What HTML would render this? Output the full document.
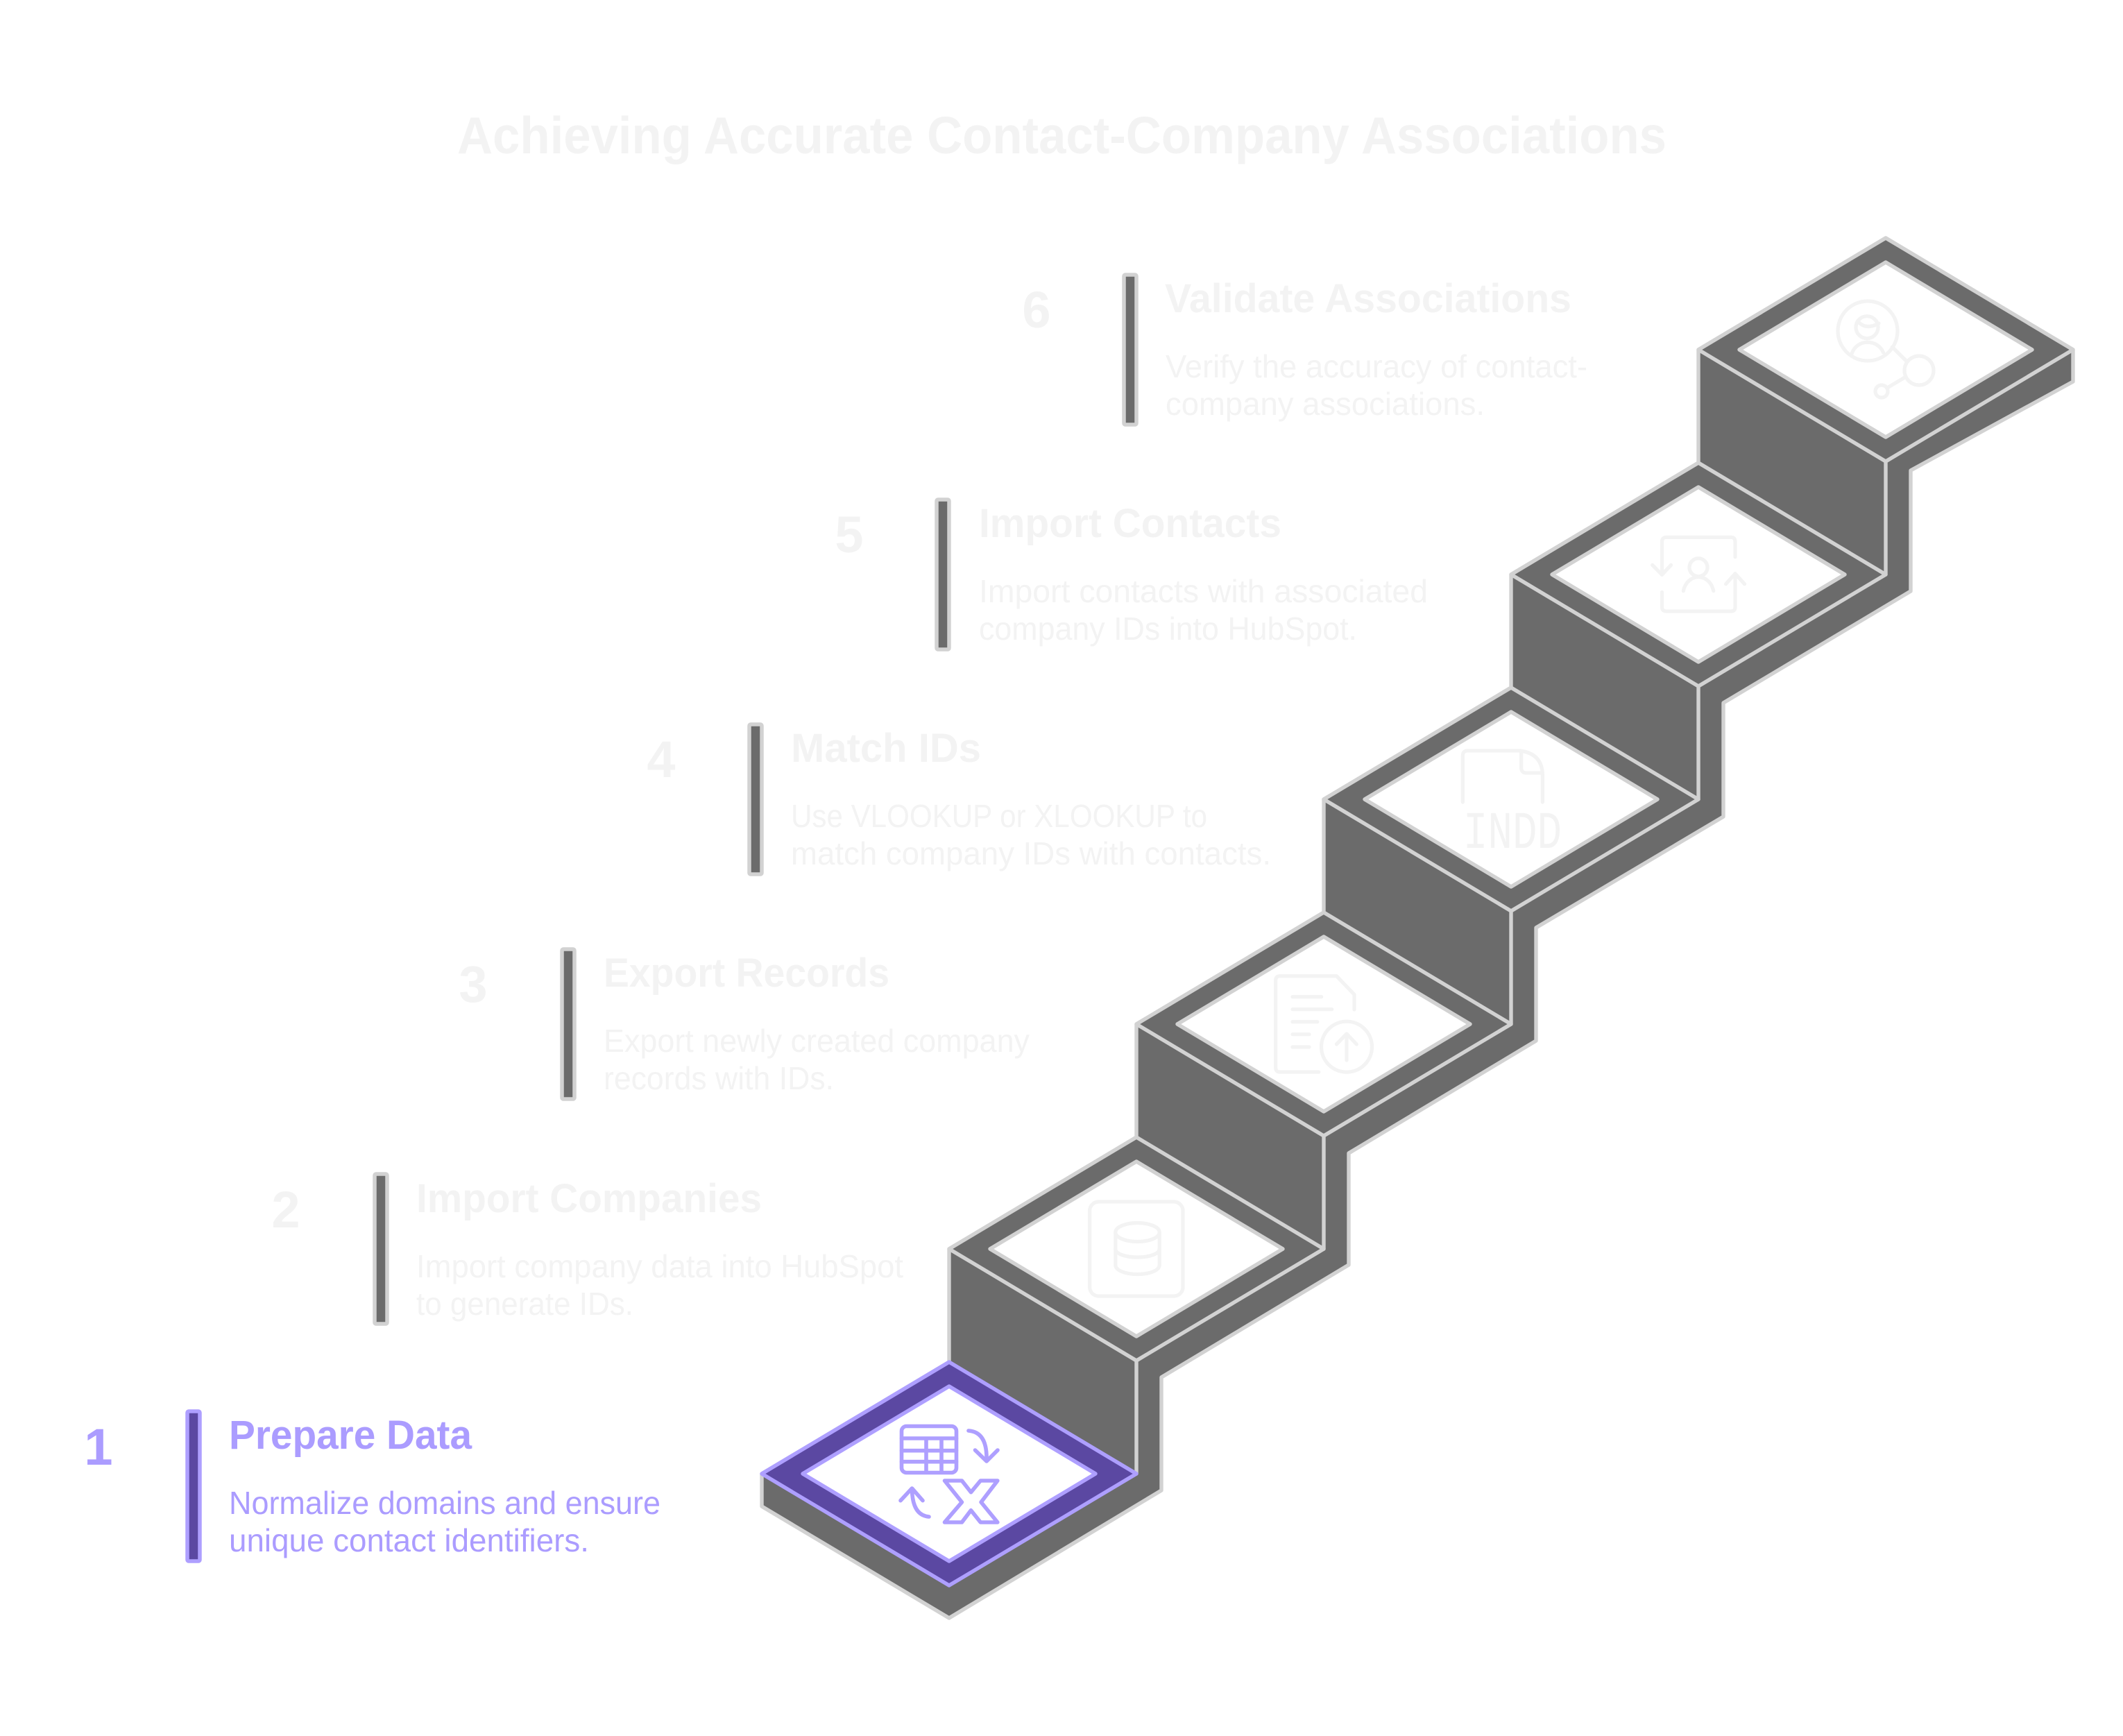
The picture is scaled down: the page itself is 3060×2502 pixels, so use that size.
<!DOCTYPE html>
<html lang="en">
<head>
<meta charset="utf-8">
<title>Achieving Accurate Contact-Company Associations</title>
<style>
html,body{margin:0;padding:0;background:#fff;width:3060px;height:2502px;overflow:hidden}
svg{display:block}
text{font-family:"Liberation Sans",sans-serif}
.g{fill:#f3f3f3}
.p{fill:#ab9cff}
.t{font-weight:700;font-size:58px}
.b{font-size:46px}
.n{font-weight:700;font-size:74px;text-anchor:middle}
.ln{stroke:#d2d2d2;stroke-width:5.4;stroke-linejoin:round;stroke-linecap:round}
.bar{fill:#6b6b6b;stroke:#d2d2d2;stroke-width:5.5}
.ig{fill:none;stroke:#f3f3f3;stroke-width:5.2;stroke-linejoin:round;stroke-linecap:round}
.ip{fill:none;stroke:#ae9fff;stroke-width:5.6;stroke-linejoin:round;stroke-linecap:round}
</style>
</head>
<body>
<svg xmlns="http://www.w3.org/2000/svg" width="3060" height="2502" viewBox="0 0 3060 2502">
<rect width="3060" height="2502" fill="#fff"/>

<!-- stairs silhouette -->
<polygon class="ln" fill="#6b6b6b" points="2718,343 2988,504 2988,550 2754,678 2754,852 2484,1013 2484,1177 2214,1337 2214,1500 1944,1662 1944,1823 1674,1985 1674,2148 1368,2332 1098,2171 1098,2124 1368,1963 1368,1800 1638,1639 1638,1476 1908,1315 1908,1152 2178,991 2178,828 2448,667 2448,504"/>

<!-- step 6 -->
<polygon class="ln" fill="#6b6b6b" points="2718,343 2988,504 2718,665 2448,504"/>
<polygon class="ln" fill="#fff" points="2718,378 2929,504 2718,630 2507,504"/>
<line class="ln" x1="2718" y1="665" x2="2718" y2="828"/>
<!-- step 5 -->
<polygon class="ln" fill="#6b6b6b" points="2448,667 2718,828 2448,989 2178,828"/>
<polygon class="ln" fill="#fff" points="2448,702 2659,828 2448,954 2237,828"/>
<line class="ln" x1="2448" y1="989" x2="2448" y2="1152"/>
<!-- step 4 -->
<polygon class="ln" fill="#6b6b6b" points="2178,991 2448,1152 2178,1313 1908,1152"/>
<polygon class="ln" fill="#fff" points="2178,1026 2389,1152 2178,1278 1967,1152"/>
<line class="ln" x1="2178" y1="1313" x2="2178" y2="1476"/>
<!-- step 3 -->
<polygon class="ln" fill="#6b6b6b" points="1908,1315 2178,1476 1908,1637 1638,1476"/>
<polygon class="ln" fill="#fff" points="1908,1350 2119,1476 1908,1602 1697,1476"/>
<line class="ln" x1="1908" y1="1637" x2="1908" y2="1800"/>
<!-- step 2 -->
<polygon class="ln" fill="#6b6b6b" points="1638,1639 1908,1800 1638,1961 1368,1800"/>
<polygon class="ln" fill="#fff" points="1638,1674 1849,1800 1638,1926 1427,1800"/>
<line class="ln" x1="1638" y1="1961" x2="1638" y2="2124"/>
<!-- step 1 -->
<polygon fill="#5b48a2" stroke="#ae9fff" stroke-width="5.4" stroke-linejoin="round" points="1368,1963 1638,2124 1368,2285 1098,2124"/>
<polygon fill="#fff" stroke="#ae9fff" stroke-width="5.4" stroke-linejoin="round" points="1368,1998 1579,2124 1368,2250 1157,2124"/>

<!-- icon 1 -->
<g class="ip">
<rect x="1299.5" y="2055.5" width="79" height="67" rx="7"/>
<path d="M1299.5 2073H1378.5M1299.5 2090.7H1378.5M1299.5 2106.7H1378.5M1335 2073V2122M1357 2073V2122"/>
<path d="M1396 2062Q1423 2064 1422 2104"/>
<path d="M1405.5 2090L1422 2106L1438 2090"/>
<path d="M1339 2186Q1315 2184 1314.5 2146"/>
<path d="M1298 2162.7L1314.5 2145L1330 2162.7"/>
<polygon points="1361.5,2134 1386.4,2134 1399.5,2150.7 1413.3,2134 1437.8,2134 1414.1,2165 1437.8,2194 1413.3,2194 1399.5,2176.7 1386.4,2194 1361.5,2194 1386.4,2165"/>
</g>

<!-- icon 2 -->
<g class="ig">
<rect x="1570.6" y="1732" width="134.4" height="136" rx="13"/>
<ellipse cx="1639.5" cy="1776" rx="31.7" ry="13.5"/>
<path d="M1607.8 1776V1823C1607.8 1831 1622 1836.5 1639.5 1836.5C1657 1836.5 1671.2 1831 1671.2 1823V1776"/>
<path d="M1607.8 1800C1607.8 1807 1622 1812 1639.5 1812C1657 1812 1671.2 1807 1671.2 1800"/>
</g>

<!-- icon 3 -->
<g class="ig">
<path d="M1900.7 1545H1845Q1838.7 1545 1838.7 1539V1413Q1838.7 1406.7 1845 1406.7H1926.4L1952 1433.3V1455"/>
<path d="M1863 1436.7H1904.7M1863 1454.7H1919.7M1863 1472.7H1898.8M1863 1490.7H1887M1863 1509H1887"/>
<ellipse cx="1941" cy="1508.7" rx="36.5" ry="36.5"/>
<path d="M1941 1528V1490M1926.4 1505L1941 1490L1955.3 1505"/>
</g>

<!-- icon 4 -->
<g class="ig">
<path d="M2108.4 1156V1089Q2108.4 1082 2115 1082H2190.6Q2223.4 1086 2223.4 1118V1156"/>
<path d="M2192.6 1083V1106Q2192.6 1114 2200 1114H2222"/>
</g>
<text x="2109" y="1222" font-size="76" textLength="142" lengthAdjust="spacingAndGlyphs" class="g" style="font-family:'Liberation Mono',monospace">INDD</text>

<!-- icon 5 -->
<g class="ig">
<path d="M2501 802.7V781Q2501 774.3 2495 774.3H2402Q2395.5 774.3 2395.5 781V828.3"/>
<path d="M2381.7 814.3L2395.5 828.3L2408.5 814.3"/>
<path d="M2395.5 853.3V875Q2395.5 881 2402 881H2495Q2501 881 2501 875V826.7"/>
<path d="M2487.6 841.7L2501 826.7L2514.5 841.7"/>
<circle cx="2448" cy="817.7" r="13"/>
<path d="M2426.3 851.7C2432 825 2464 825 2469.8 851.7"/>
</g>

<!-- icon 6 -->
<g class="ig">
<circle cx="2692" cy="477" r="43"/>
<circle cx="2691" cy="471.7" r="16"/>
<path d="M2678.5 464Q2690 476 2708 466"/>
<path d="M2669 510C2676 488 2706 488 2714.5 508"/>
<path d="M2727.3 500L2747.4 520"/>
<circle cx="2766" cy="534" r="21"/>
<path d="M2745.4 544L2721.3 558.3"/>
<circle cx="2712" cy="564" r="9"/>
</g>

<!-- title -->
<text x="659" y="221" font-size="75" font-weight="700" class="g" textLength="1743" lengthAdjust="spacingAndGlyphs">Achieving Accurate Contact-Company Associations</text>

<!-- step 6 text -->
<text class="n g" x="1494" y="472">6</text>
<rect class="bar" x="1620" y="396" width="18" height="216" rx="2"/>
<text class="t g" x="1679" y="450" textLength="586" lengthAdjust="spacingAndGlyphs">Validate Associations</text>
<text class="b g" x="1680" y="544" textLength="608" lengthAdjust="spacingAndGlyphs">Verify the accuracy of contact-</text>
<text class="b g" x="1680" y="598" textLength="460" lengthAdjust="spacingAndGlyphs">company associations.</text>

<!-- step 5 text -->
<text class="n g" x="1224" y="796">5</text>
<rect class="bar" x="1350" y="720" width="18" height="216" rx="2"/>
<text class="t g" x="1411" y="774" textLength="436" lengthAdjust="spacingAndGlyphs">Import Contacts</text>
<text class="b g" x="1411" y="868" textLength="647" lengthAdjust="spacingAndGlyphs">Import contacts with associated</text>
<text class="b g" x="1411" y="922" textLength="545" lengthAdjust="spacingAndGlyphs">company IDs into HubSpot.</text>

<!-- step 4 text -->
<text class="n g" x="953" y="1120">4</text>
<rect class="bar" x="1080" y="1044" width="18" height="216" rx="2"/>
<text class="t g" x="1140" y="1098" textLength="274" lengthAdjust="spacingAndGlyphs">Match IDs</text>
<text class="b g" x="1140" y="1192" textLength="600" lengthAdjust="spacingAndGlyphs">Use VLOOKUP or XLOOKUP to</text>
<text class="b g" x="1140" y="1246" textLength="692" lengthAdjust="spacingAndGlyphs">match company IDs with contacts.</text>

<!-- step 3 text -->
<text class="n g" x="682" y="1444">3</text>
<rect class="bar" x="810" y="1368" width="18" height="216" rx="2"/>
<text class="t g" x="870" y="1422" textLength="412" lengthAdjust="spacingAndGlyphs">Export Records</text>
<text class="b g" x="870" y="1516" textLength="614" lengthAdjust="spacingAndGlyphs">Export newly created company</text>
<text class="b g" x="870" y="1570" textLength="332" lengthAdjust="spacingAndGlyphs">records with IDs.</text>

<!-- step 2 text -->
<text class="n g" x="412" y="1769">2</text>
<rect class="bar" x="540" y="1692" width="18" height="216" rx="2"/>
<text class="t g" x="600" y="1747" textLength="498" lengthAdjust="spacingAndGlyphs">Import Companies</text>
<text class="b g" x="600" y="1841" textLength="702" lengthAdjust="spacingAndGlyphs">Import company data into HubSpot</text>
<text class="b g" x="600" y="1895" textLength="313" lengthAdjust="spacingAndGlyphs">to generate IDs.</text>

<!-- step 1 text -->
<text class="n p" x="142" y="2111">1</text>
<rect x="270" y="2034" width="18" height="216" rx="2" fill="#5b48a2" stroke="#ae9fff" stroke-width="5.5"/>
<text class="t p" x="330" y="2088" textLength="350" lengthAdjust="spacingAndGlyphs">Prepare Data</text>
<text class="b p" x="330" y="2182" textLength="622" lengthAdjust="spacingAndGlyphs">Normalize domains and ensure</text>
<text class="b p" x="330" y="2236" textLength="519" lengthAdjust="spacingAndGlyphs">unique contact identifiers.</text>
</svg>
</body>
</html>
